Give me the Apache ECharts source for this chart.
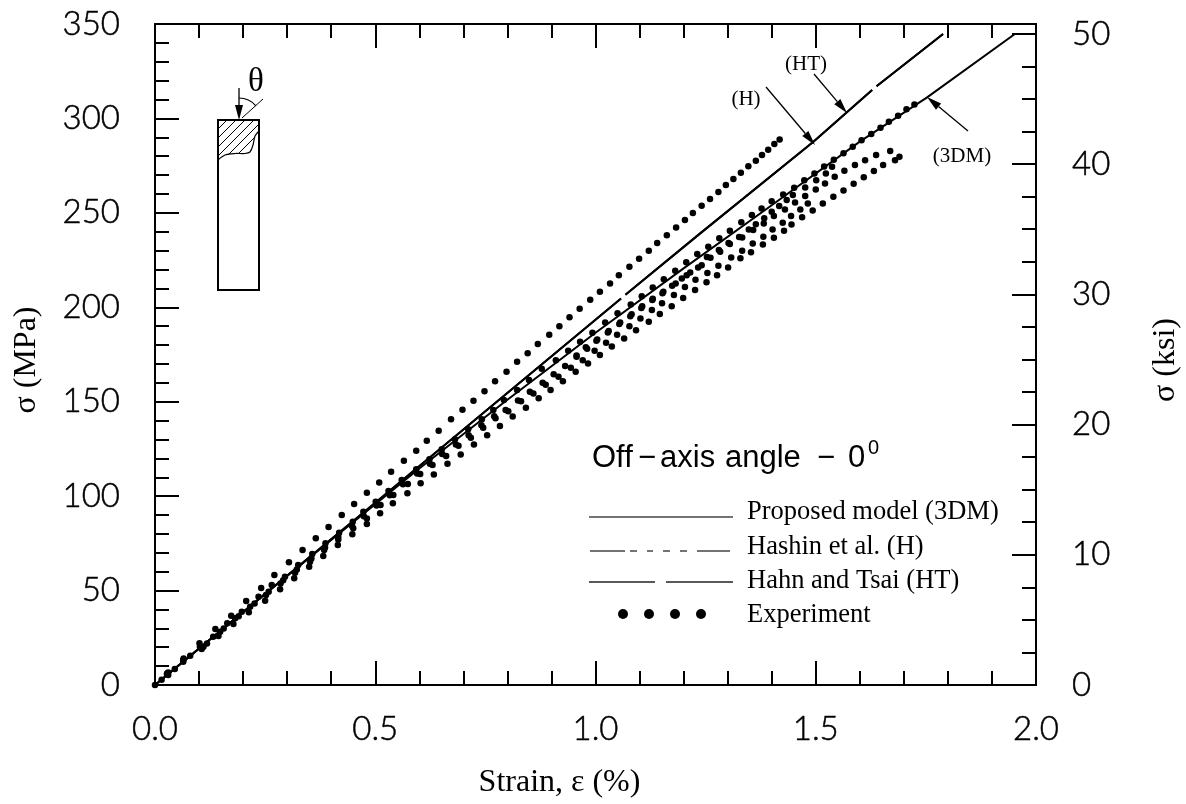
<!DOCTYPE html>
<html><head><meta charset="utf-8">
<style>html,body{margin:0;padding:0;background:#fff}#c{width:1186px;height:804px}</style>
<script src="https://cdn.jsdelivr.net/npm/echarts@6/dist/echarts.min.js"></script>
</head><body><div id="c"></div>
<script>
const xTicksMajor = 0.5, yTicksMajor = 50, ksiMajor = 10, ksiMinor = 2.5;
const legendLabels = ['Proposed model (3DM)','Hashin et al. (H)','Hahn and Tsai (HT)','Experiment'];
const model3DM = [[0,0],[0.2,38.6],[0.4,76.8],[0.6,114.6],[0.8,151],[1.0,186.5],[1.2,220.6],[1.4,254],[1.6,287.7],[1.752,311],[1.952,344.7],[2.0,344.7]];
const modelH = [[0,0],[0.5,96.5],[1.058,204.6],[1.063,null],[1.068,206.6],[1.237,239],[1.494,287.5],[1.628,315],[1.633,null],[1.638,317],[1.789,344.7]];
const modelHT = [[0,0],[0.5,96.5],[1.058,204.6],[1.063,null],[1.068,206.6],[1.237,239],[1.494,287.5],[1.628,315],[1.633,null],[1.638,317],[1.789,344.7]];
const expA = [[0.03,6.6],[0.065,14],[0.101,22.1],[0.137,29.6],[0.173,36.7],[0.207,44.5],[0.241,51.3],[0.271,58.2],[0.304,65],[0.335,71.5],[0.365,77.7],[0.394,83.6],[0.424,90],[0.452,95.8],[0.481,101.8],[0.509,107.2],[0.536,112.9],[0.565,118.7],[0.593,124.1],[0.617,129.3],[0.644,134.6],[0.672,140.7],[0.698,145.7],[0.723,150.5],[0.748,155.6],[0.772,160.8],[0.798,165.9],[0.822,171.1],[0.846,175.6],[0.869,180.5],[0.895,185.4],[0.918,190],[0.941,194.7],[0.964,199.2],[0.988,204],[1.01,208.2],[1.033,212.6],[1.053,216.9],[1.077,221.4],[1.099,225.7],[1.121,229.9],[1.14,234],[1.162,238.1],[1.183,242.3],[1.203,246.2],[1.221,249.9],[1.241,253.7],[1.26,257.3],[1.279,261.1],[1.296,264.7],[1.313,267.9],[1.33,271.2],[1.347,274.7],[1.364,277.6],[1.378,280.7],[1.392,283.4],[1.406,286.4],[1.418,288.9]];
const expB = [[0,0],[0.027,5.8],[0.064,12.9],[0.102,20.3],[0.132,25.6],[0.164,32.7],[0.197,38.8],[0.235,46.7],[0.265,52.9],[0.295,57.3],[0.325,63.5],[0.357,69.3],[0.387,75],[0.418,80.6],[0.449,86.5],[0.473,91.7],[0.501,97],[0.53,102.7],[0.56,108.5],[0.593,114.2],[0.623,119.5],[0.651,124.8],[0.681,130.1],[0.711,135.4],[0.742,140.7],[0.768,145.6],[0.792,150.9],[0.822,156.2],[0.849,161.5],[0.878,167.4],[0.91,172],[0.938,177],[0.965,181.7],[0.993,186.5],[1.022,192],[1.05,196.8],[1.08,201.5],[1.105,205.8],[1.13,210.5],[1.155,214.9],[1.181,219.3],[1.206,223.9],[1.231,228.2],[1.256,232],[1.281,236.5],[1.305,240.5],[1.331,245],[1.355,248.8],[1.377,252.3],[1.4,256.2],[1.426,259.7],[1.451,263.3],[1.474,267.3],[1.497,270.9],[1.519,274.6],[1.541,278.1],[1.563,281.6],[1.584,285],[1.604,288.4],[1.626,291.8],[1.647,295],[1.666,298.2],[1.687,301.4],[1.706,304.8],[1.724,307.4]];
const expC = [[0.015,2.8],[0.045,8.5],[0.08,15.5],[0.118,22],[0.156,29.9],[0.19,36.4],[0.226,43.2],[0.258,49.4],[0.291,55.4],[0.322,61.2],[0.355,67],[0.386,72.8],[0.416,78.4],[0.447,84.3],[0.474,89.4],[0.503,95],[0.533,100.5],[0.563,106.3],[0.595,112],[0.624,117.1],[0.652,122.3],[0.683,127.3],[0.712,132.2],[0.741,137.5],[0.77,142.3],[0.796,145.6],[0.824,150.6],[0.851,155.3],[0.88,160],[0.905,164.6],[0.931,168.9],[0.957,173.8],[0.981,178],[1.002,182.3],[1.028,186.7],[1.054,191.1],[1.079,195.3],[1.104,199.6],[1.129,203.8],[1.152,207.4],[1.174,211.4],[1.196,215.3],[1.215,218.4],[1.233,221.1],[1.261,226.2],[1.283,229.4],[1.305,233.5],[1.333,237],[1.358,240.9],[1.382,244.4],[1.405,248.3],[1.43,251.8],[1.453,255.5],[1.476,258.9],[1.5,262.4],[1.521,265.6],[1.543,269.1],[1.565,272.3],[1.589,275.3],[1.612,277.9],[1.637,280.6],[1.669,282.7]];
const expD = [[0.028,6.2],[0.064,13.2],[0.11,20.3],[0.148,28.2],[0.182,35.3],[0.216,41.4],[0.252,47.6],[0.285,53.8],[0.318,59.4],[0.352,65.3],[0.384,71.5],[0.416,77.1],[0.45,83],[0.481,88.2],[0.512,95.3],[0.541,100.6],[0.574,106.4],[0.602,111.7],[0.63,116.5],[0.661,121.2],[0.689,126.7],[0.717,130.9],[0.745,136.2],[0.773,141.2],[0.802,145],[0.831,150.3],[0.859,154.4],[0.887,159],[0.916,163.2],[0.944,168],[0.971,172],[0.998,177],[1.024,181.2],[1.049,185.4],[1.077,189.9],[1.102,194.1],[1.128,198.6],[1.151,202.2],[1.178,206.5],[1.203,210.7],[1.227,214.6],[1.254,218.1],[1.279,222],[1.308,226.3],[1.333,229.9],[1.357,233.8],[1.381,237.3],[1.402,241.2],[1.425,244.7],[1.444,248.3],[1.465,251.8],[1.482,255]];
const expE = [[0.03,5.3],[0.064,12.3],[0.106,19.1],[0.144,25.9],[0.178,32.3],[0.213,38.5],[0.25,44.6],[0.284,50.7],[0.316,56.5],[0.35,62.6],[0.382,68.3],[0.415,74.1],[0.448,79.8],[0.481,85.2],[0.511,90.9],[0.54,96.2],[0.573,101.5],[0.603,106.8],[0.633,111.5],[0.664,117.2],[0.694,122.1],[0.724,127.4],[0.754,132.3],[0.783,137.1],[0.812,142.2],[0.842,146.8],[0.871,151.8],[0.898,156.2],[0.926,160.9],[0.955,165.9],[0.983,170.3],[1.01,174.7],[1.037,179.3],[1.065,183.5],[1.092,187.9],[1.121,192.3],[1.146,196.4],[1.173,200.6],[1.199,204.9],[1.226,209.1],[1.252,213.2],[1.276,217],[1.301,221.1],[1.329,225.9],[1.353,229.1],[1.38,233.3],[1.405,236.8],[1.428,240.5],[1.445,243.9],[1.469,247.7],[1.493,251.3],[1.516,255],[1.54,258.5],[1.563,261.9],[1.586,265.4],[1.609,268.9],[1.632,272.1],[1.653,275.3],[1.68,277.9],[1.69,279.7]];
const expF = [[0.957,174.5],[0.978,178.9],[1.004,183],[1.03,187.4],[1.056,191.9],[1.082,196.3],[1.106,200.5],[1.13,204.5],[1.154,208.2],[1.182,212.6],[1.207,217],[1.241,222.3],[1.253,226.6],[1.28,230.3],[1.302,234],[1.326,237.2],[1.348,241.2],[1.364,244],[1.383,247.1],[1.4,250.6],[1.417,253.6],[1.434,256.8],[1.448,259.4],[1.476,263.4],[1.501,267.3],[1.523,270.9],[1.537,274.4]];

const tickFont = {fontFamily:'Lato', fontWeight:300, fontSize:33, color:'#000', textBorderColor:'#000', textBorderWidth:0.5};
const serif = 'Liberation Serif', sans = 'Liberation Sans';
const axisLine = {show:true, onZero:false, lineStyle:{color:'#000', width:2}};
const ks = {color:'#000', width:2};
function hAxis(pos, labels){
  return {type:'value', position:pos, min:0, max:2, interval:xTicksMajor, axisLine,
    axisTick:{inside:true, length:24, lineStyle:ks}, minorTick:{show:true, splitNumber:5, length:14, lineStyle:ks},
    splitLine:{show:false}, axisLabel:labels?{...tickFont, margin:28, formatter:v=>v.toFixed(1)}:{show:false}};
}
function exp(data){return {type:'scatter', name:'Experiment', data, symbol:'circle', symbolSize:6.5, itemStyle:{color:'#000', opacity:1}, silent:true, z:3};}
function line(name,data){return {type:'line', name, data, showSymbol:false, connectNulls:false, lineStyle:{color:'#000', width:2}, silent:true, z:2};}

function arrow(x1,y1,x2,y2,L,W){
  const d=Math.hypot(x2-x1,y2-y1), ux=(x2-x1)/d, uy=(y2-y1)/d, bx=x2-ux*L, by=y2-uy*L;
  return [
    {type:'line', shape:{x1,y1,x2:bx,y2:by}, style:{stroke:'#000', lineWidth:1.3}},
    {type:'polygon', shape:{points:[[x2,y2],[bx-uy*W/2,by+ux*W/2],[bx+uy*W/2,by-ux*W/2]]}, style:{fill:'#000'}}
  ];
}
function seg(x1,y1,x2,y2,w,c){return {type:'line', shape:{x1,y1,x2,y2}, style:{stroke:c||'#000', lineWidth:w||1}};}
function txt(text,x,y,size,fam,align){return {type:'text', x, y, style:{text, fontFamily:fam||serif, fontSize:size, fill:'#000', textAlign:align||'left', textVerticalAlign:'middle'}};}

const graphics = [
  {type:'rect', shape:{x:218,y:120,width:41,height:170}, style:{fill:'none', stroke:'#000', lineWidth:2}},
  {type:'polyline', shape:{points:[[218,160],[225,155],[235,153.5],[245,153.5],[250,152],[253,145],[255,136],[259,131]], smooth:0.3}, style:{fill:'none', stroke:'#000', lineWidth:1.2}},
  seg(218,129,227,120), seg(218,138,236,120), seg(218,147,245,120), seg(218,156,254,120), seg(228,155,259,124), seg(238,154,254,138),
  ...arrow(239,88,239,120,15,8),
  seg(242,118,263,99),
  {type:'arc', shape:{cx:239,cy:120,r:22,startAngle:-Math.PI/2,endAngle:-Math.PI/4.5}, style:{fill:'none', stroke:'#000', lineWidth:1.2}},
  txt('θ',256,82,33,serif,'center'),
  txt('(HT)',806,64,21,serif,'center'), txt('(H)',746,99,21,serif,'center'), txt('(3DM)',962,156,21,serif,'center'),
  ...arrow(814,74,847,113,15,8), ...arrow(766,87,815,145,15,8), ...arrow(968,131,927,97,15,8),
  txt('Off',592,458,31,sans), txt('−',638,458,31,sans), txt('axis',660,458,31,sans), txt('angle',725,458,31,sans), txt('−',817,458,31,sans), txt('0',848,458,31,sans), txt('0',868,448,20,sans),
  seg(589,517,733,517,1.5,'#444'),
  seg(590,551,625,551,1.5,'#444'), seg(630,551,637,551,1.5,'#444'), seg(647,551,653,551,1.5,'#444'), seg(663,551,670,551,1.5,'#444'), seg(680,551,687,551,1.5,'#444'), seg(697,551,730,551,1.5,'#444'),
  seg(589,582,655,582,1.5,'#222'), seg(666,582,733,582,1.5,'#222'),
  txt(legendLabels[0],747,512,26.5), txt(legendLabels[1],747,547,26.5), txt(legendLabels[2],747,581,26.5), txt(legendLabels[3],747,615,26.5),
  ...[623,649,675,701].map(x=>({type:'circle', shape:{cx:x,cy:614,r:5}, style:{fill:'#000'}}))
];

const option = {
  animation:false, backgroundColor:'#fff',
  grid:{left:155, top:24, width:881, height:661, show:false, outerBoundsMode:'none', containLabel:false},
  xAxis:[
    {...hAxis('bottom',true), name:'Strain, ε (%)', nameLocation:'middle', nameGap:82, nameTextStyle:{fontFamily:serif, fontSize:32, color:'#000', padding:[0,72,0,0]}},
    hAxis('top',false)
  ],
  yAxis:[
    {type:'value', position:'left', min:0, max:350, interval:yTicksMajor, axisLine, axisTick:{inside:true,length:24,lineStyle:ks},
     minorTick:{show:true,splitNumber:5,length:14,lineStyle:ks}, splitLine:{show:false},
     axisLabel:{...tickFont, margin:35}, name:'σ (MPa)', nameLocation:'middle', nameGap:112, nameTextStyle:{fontFamily:serif,fontSize:32,color:'#000',padding:[0,11,0,0]}},
    {type:'value', position:'right', min:0, max:350/6.895, interval:ksiMajor, axisLine, axisTick:{inside:true,length:24,lineStyle:ks},
     splitLine:{show:false}, axisLabel:{...tickFont, margin:36, showMaxLabel:false},
     name:'σ (ksi)', nameLocation:'middle', nameGap:114, nameRotate:90, nameTextStyle:{fontFamily:serif,fontSize:32,color:'#000',padding:[0,11,0,0]}},
    {type:'value', position:'right', min:0, max:350/6.895, interval:ksiMinor, axisLine, axisTick:{inside:true,length:14,lineStyle:ks},
     splitLine:{show:false}, axisLabel:{show:false}}
  ],
  series:[
    line('Proposed model (3DM)',model3DM), line('Hashin et al. (H)',modelH), line('Hahn and Tsai (HT)',modelHT),
    exp(expA), exp(expB), exp(expC), exp(expD), exp(expE), exp(expF)
  ],
  graphic:graphics
};
echarts.init(document.getElementById('c'),null,{renderer:'canvas'}).setOption(option);
</script></body></html>
